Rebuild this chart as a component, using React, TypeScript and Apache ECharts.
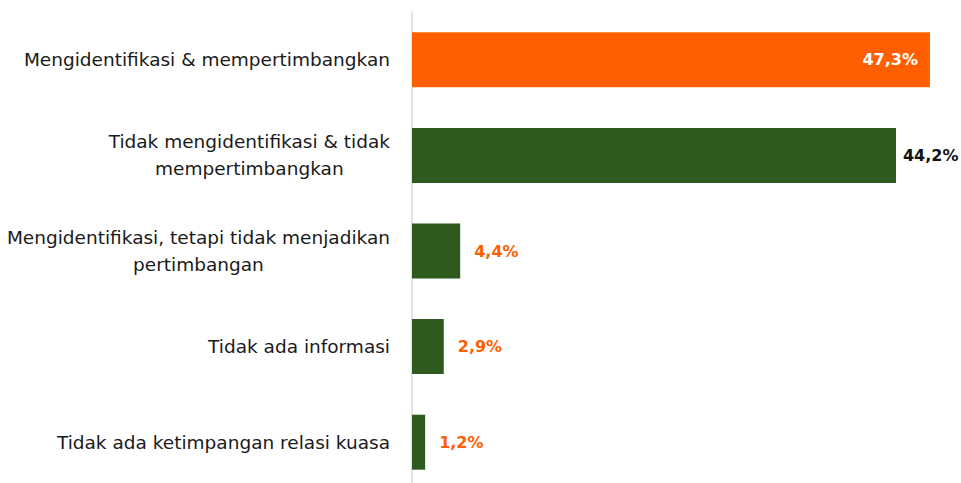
import React, { useEffect, useRef } from "react";
import * as echarts from "echarts";

const categories = [
  "Mengidentifikasi & mempertimbangkan",
  "Tidak mengidentifikasi & tidak\nmempertimbangkan",
  "Mengidentifikasi, tetapi tidak menjadikan\npertimbangan",
  "Tidak ada informasi",
  "Tidak ada ketimpangan relasi kuasa",
];
const values = [47.3, 44.2, 4.4, 2.9, 1.2];
const barColors = ["#FF5F00", "#2F5A1E", "#2F5A1E", "#2F5A1E", "#2F5A1E"];
const labelColors = ["#FFFFFF", "#111111", "#FF5F00", "#FF5F00", "#FF5F00"];
const labelInside = [true, false, false, false, false];

const FONT = "'DejaVu Sans', 'Open Sans', sans-serif";

export default function App() {
  const ref = useRef<HTMLDivElement>(null);
  useEffect(() => {
    if (!ref.current) return;
    const chart = echarts.init(ref.current, undefined, { renderer: "svg" });
    chart.setOption({
      animation: false,
      backgroundColor: "#ffffff",
      grid: { left: 412, top: 12, right: 1.5, bottom: 0, containLabel: false },
      xAxis: {
        type: "value",
        min: 0,
        max: 50,
        show: false,
      },
      yAxis: {
        type: "category",
        inverse: true,
        data: categories,
        axisLine: { show: true, lineStyle: { color: "#D9D9D9", width: 1.5 } },
        axisTick: { show: false },
        axisLabel: {
          color: "#1a1a1a",
          fontSize: 18.5,
          fontFamily: FONT,
          margin: 22,
          lineHeight: 27,
          align: "right",
          formatter: (val: string) =>
            val
              .split("\n")
              .map((l) => "{c|" + l + "}")
              .join("\n"),
          rich: {
            c: {
              align: "center",
              color: "#1a1a1a",
              fontSize: 18.5,
              fontFamily: FONT,
              lineHeight: 27,
            },
          },
        },
      },
      series: [
        {
          type: "bar",
          barWidth: 55,
          data: values.map((v, i) => ({
            value: v,
            itemStyle: { color: barColors[i] },
            label: {
              show: true,
              position: labelInside[i] ? "insideRight" : "right",
              distance: i === 0 ? 12 : i === 1 ? 7 : 14,
              color: labelColors[i],
              fontWeight: "bold",
              fontSize: 16,
              fontFamily: FONT,
              formatter: () => v.toFixed(1).replace(".", ",") + "%",
            },
          })),
        },
      ],
    });
    return () => chart.dispose();
  }, []);
  return (
    <div
      ref={ref}
      style={{ position: "fixed", left: 0, top: 0, width: 961, height: 490 }}
    />
  );
}
